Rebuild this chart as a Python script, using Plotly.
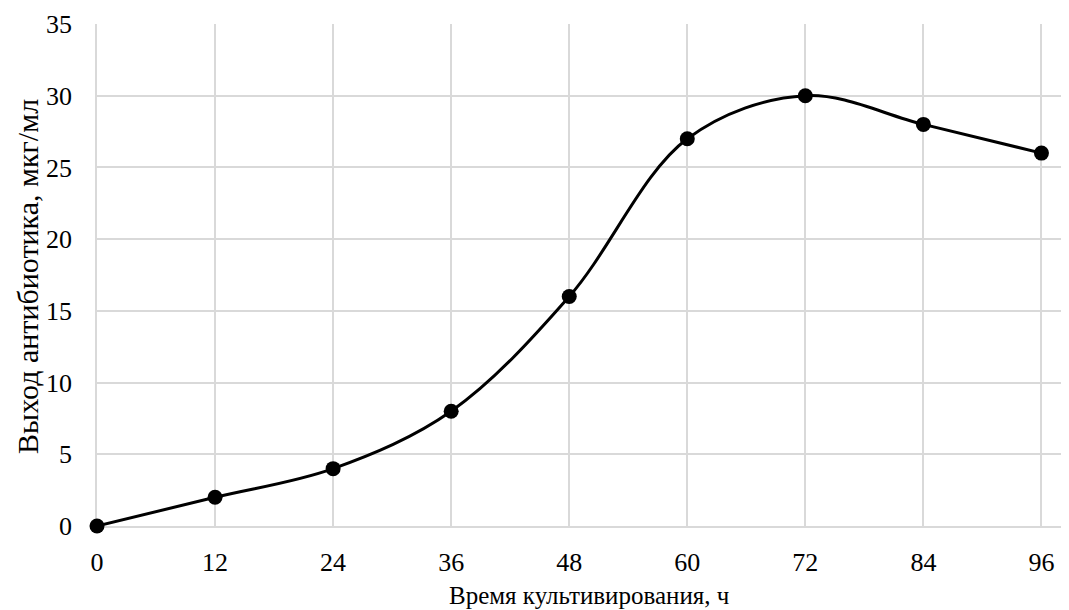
import plotly.graph_objects as go

hours = [0, 12, 24, 36, 48, 60, 72, 84, 96]
yield_vals = [0, 2, 4, 8, 16, 27, 30, 28, 26]
x_ticks = [0, 12, 24, 36, 48, 60, 72, 84, 96]
y_ticks = [0, 5, 10, 15, 20, 25, 30, 35]
x_title = "Время культивирования, ч"
y_title = "Выход антибиотика, мкг/мл"

fig = go.Figure()
fig.add_trace(go.Scatter(
    x=hours, y=yield_vals, mode="lines+markers",
    line=dict(color="black", width=3, shape="spline", smoothing=1.0),
    marker=dict(color="black", size=15),
    cliponaxis=False, showlegend=False,
))

font = "Liberation Serif"
W, H = 1061, 602
L, R, T, B = 89, 0, 16, 84
pw, ph = W - L - R, H - T - B

fig.update_layout(
    width=W, height=H,
    margin=dict(l=L, r=R, t=T, b=B),
    paper_bgcolor="white", plot_bgcolor="white",
    font=dict(family=font, size=26, color="black"),
    xaxis=dict(
        range=[0, 98.8], tickvals=x_ticks, ticks="outside", ticklen=12, tickcolor="rgba(0,0,0,0)",
        showgrid=True, gridcolor="#d9d9d9", gridwidth=1.5, zeroline=False,
        showline=True, linecolor="#d9d9d9", linewidth=1.5,
        tickfont=dict(family=font, size=26), layer="below traces",
    ),
    yaxis=dict(
        range=[0, 35], tickvals=y_ticks, ticks="outside", ticklen=18, tickcolor="rgba(0,0,0,0)",
        showgrid=True, gridcolor="#d9d9d9", gridwidth=1.5, zeroline=False,
        showline=True, linecolor="#d9d9d9", linewidth=1.5,
        tickfont=dict(family=font, size=26), layer="below traces",
    ),
    annotations=[
        dict(text=x_title, xref="paper", yref="paper",
             x=(581 - L) / pw, y=(T + ph - 588) / ph,
             xanchor="center", yanchor="middle", showarrow=False,
             font=dict(family=font, size=25, color="black")),
        dict(text=y_title, xref="paper", yref="paper",
             x=(19 - L) / pw, y=(T + ph - 269) / ph, textangle=-90,
             xanchor="center", yanchor="middle", showarrow=False,
             font=dict(family=font, size=30, color="black")),
    ],
)
fig.write_html("out.html")
